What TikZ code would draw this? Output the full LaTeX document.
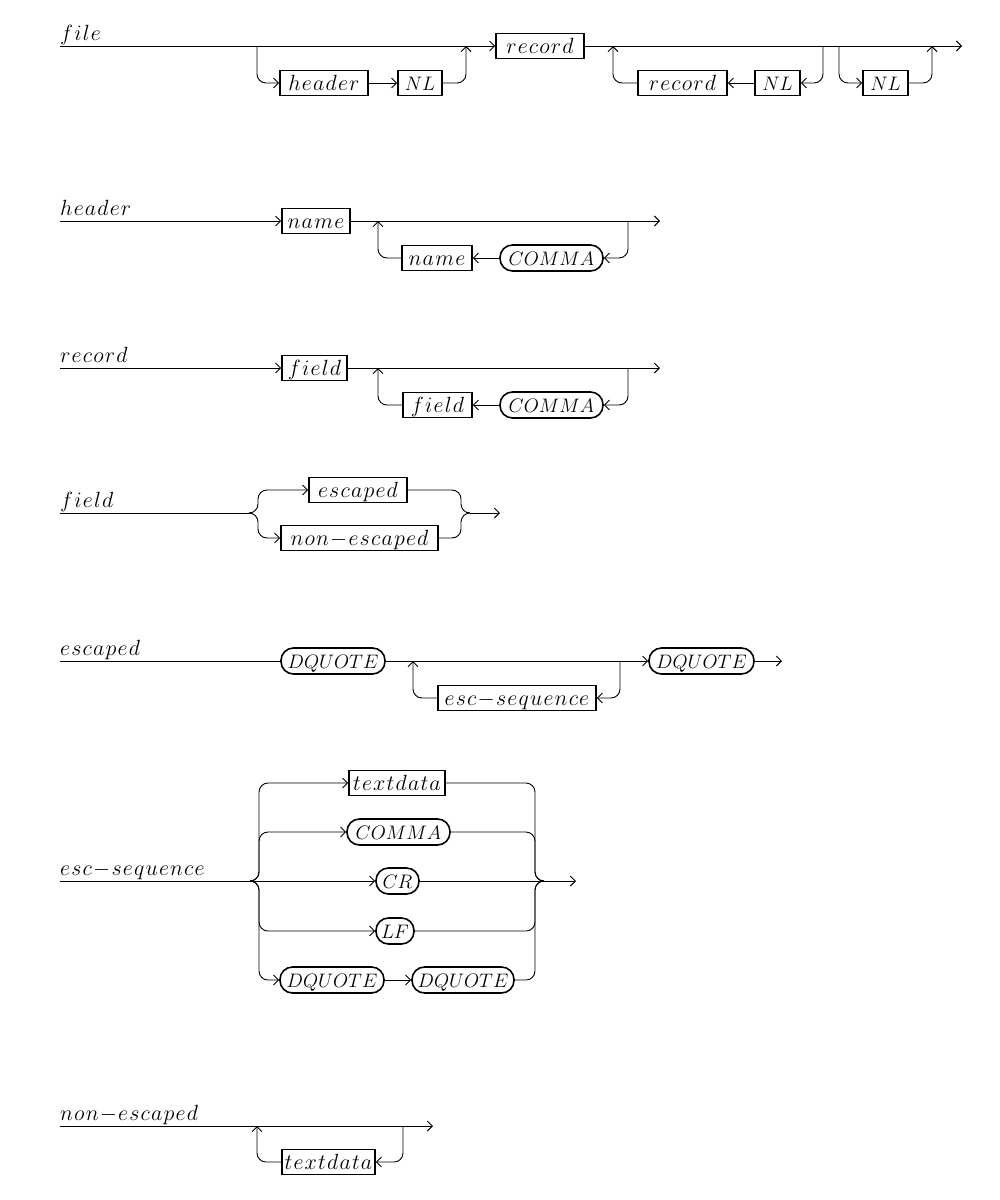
\RequirePackage{fix-cm}
\documentclass[tikz,border=0pt]{standalone}
\usetikzlibrary{arrows.meta}
\newdimen\rltrack \rltrack=1.2pt
\makeatletter
\def\rl#1{$\rl@a#1\relax$}
\def\rl@a#1{{#1}\rl@b}
\def\rl@b#1{\ifx\relax#1\else\kern\rltrack{#1}\expandafter\rl@b\fi}
\makeatother
\newcommand\RL[1]{{\fontsize{19.5pt}{22pt}\selectfont$#1$}}
\tikzset{
  rail/.style={line width=0.9pt},
  tip/.style={-{Straight Barb[length=5pt,width=10pt,line width=0.9pt]}},
  nt/.style={draw, line width=1.6pt, minimum height=25pt, inner xsep=2pt, inner ysep=0pt,
    text height=17pt, text depth=2pt, font=\fontsize{22pt}{26pt}\selectfont},
  term/.style={nt, rounded corners=12.5pt, minimum height=26pt, text height=16pt, text depth=2pt},
  lbl/.style={anchor=base west, inner sep=0pt, font=\fontsize{22pt}{26pt}\selectfont},
  rc/.style={rounded corners=9pt},
}
\begin{document}
\begin{tikzpicture}[x=1pt,y=-1pt]
\useasboundingbox (0,0) rectangle (1000,1200);
% ---------- file ----------
\node[lbl] (Lfile) at (60,40) {\rl{file}};
\coordinate (f0) at (60,46);
\coordinate (fb1) at (257,46);
\coordinate (fj1) at (466,46);
\coordinate (fj2) at (613,46);
\coordinate (fb2) at (823,46);
\coordinate (fb3) at (839,46);
\coordinate (fj3) at (932,46);
\coordinate (fend) at (962,46);
\node[nt, minimum width=88pt] (fhdr) at (324,83) {\rl{header}};
\node[nt, minimum width=44pt] (fnl1) at (420,83) {\RL{NL}};
\node[nt, minimum width=88pt] (frec) at (540,46) {\rl{record}};
\node[nt, minimum width=89pt] (frec2) at (682.5,83) {\rl{record}};
\node[nt, minimum width=45pt] (fnl2) at (777.5,83) {\RL{NL}};
\node[nt, minimum width=45pt] (fnl3) at (885.5,83) {\RL{NL}};
\draw[rail,tip] (f0) -- (frec);
\draw[rail,rc,tip] (fb1) |- (fhdr);
\draw[rail,tip] (fhdr) -- (fnl1);
\draw[rail,rc,tip] (fnl1) -| (fj1);
\draw[rail,tip] (frec) -- (fend);
\draw[rail,rc,tip] (fb2) |- (fnl2);
\draw[rail,tip] (fnl2) -- (frec2);
\draw[rail,rc,tip] (frec2) -| (fj2);
\draw[rail,rc,tip] (fb3) |- (fnl3);
\draw[rail,rc,tip] (fnl3) -| (fj3);
% ---------- header ----------
\node[lbl] (Lheader) at (60,215) {\rl{header}};
\coordinate (h0) at (60,221);
\coordinate (hj) at (378,221);
\coordinate (hb) at (628,221);
\coordinate (hend) at (660,221);
\node[nt, minimum width=68pt] (hname) at (316,221) {\rl{name}};
\node[nt, minimum width=70pt] (hname2) at (437,258) {\rl{name}};
\node[term, minimum width=103pt] (hcomma) at (551.5,258) {\RL{COMMA}};
\draw[rail,tip] (h0) -- (hname);
\draw[rail,tip] (hname) -- (hend);
\draw[rail,rc,tip] (hb) |- (hcomma);
\draw[rail,tip] (hcomma) -- (hname2);
\draw[rail,rc,tip] (hname2) -| (hj);
% ---------- record ----------
\node[lbl] (Lrecord) at (60,362) {\rl{record}};
\coordinate (r0) at (60,368);
\coordinate (rj) at (378,368);
\coordinate (rb) at (628,368);
\coordinate (rend) at (660,368);
\node[nt, minimum width=65pt] (rfield) at (314.5,368) {\rl{field}};
\node[nt, minimum width=69pt] (rfield2) at (437.5,405) {\rl{field}};
\node[term, minimum width=103pt] (rcomma) at (551.5,405) {\RL{COMMA}};
\draw[rail,tip] (r0) -- (rfield);
\draw[rail,tip] (rfield) -- (rend);
\draw[rail,rc,tip] (rb) |- (rcomma);
\draw[rail,tip] (rcomma) -- (rfield2);
\draw[rail,rc,tip] (rfield2) -| (rj);
% ---------- field ----------
\node[lbl] (Lfield) at (60,507) {\rl{field}};
\coordinate (fi0) at (60,513);
\coordinate (fis) at (249,513);
\coordinate (fim) at (470,513);
\coordinate (fiend) at (500,513);
\node[nt, minimum width=98pt] (fesc) at (358,490) {\rl{escaped}};
\node[nt, minimum width=157pt] (fnesc) at (359.5,538) {\rl{non-escaped}};
\draw[rail] (fi0) -- (fis);
\draw[rail,rc,tip] (fis) -- ++(9,0) |- (fesc);
\draw[rail,rc,tip] (fis) -- ++(9,0) |- (fnesc);
\draw[rail,rc] (fesc.east) -| (461,513) -- (fim);
\draw[rail,rc] (fnesc.east) -| (461,513) -- (fim);
\draw[rail,tip] (fim) -- (fiend);
% ---------- escaped ----------
\node[lbl] (Lescaped) at (60,655) {\rl{escaped}};
\coordinate (e0) at (60,661);
\coordinate (ej) at (413,661);
\coordinate (eb) at (620,661);
\coordinate (eend) at (782,661);
\node[term, minimum width=104pt] (edq1) at (333,661) {\RL{DQUOTE}};
\node[nt, minimum width=158pt] (eseq) at (517,698) {\rl{esc-sequence}};
\node[term, minimum width=105pt] (edq2) at (701.5,661) {\RL{DQUOTE}};
\draw[rail] (e0) -- (edq1);
\draw[rail,tip] (edq1) -- (edq2);
\draw[rail,tip] (edq2) -- (eend);
\draw[rail,rc,tip] (eb) |- (eseq);
\draw[rail,rc,tip] (eseq) -| (ej);
% ---------- esc-sequence ----------
\node[lbl] (Lseq) at (60,875) {\rl{esc-sequence}};
\coordinate (s0) at (60,881);
\coordinate (ss) at (250,881);
\coordinate (sm) at (544,881);
\coordinate (send) at (576,881);
\node[nt, minimum width=96pt] (std) at (397,783) {\rl{textdata}};
\node[term, minimum width=103pt] (scm) at (398.5,832) {\RL{COMMA}};
\node[term, minimum width=43pt] (scr) at (397.5,881) {\RL{CR}};
\node[term, minimum width=38pt] (slf) at (395,931) {\RL{LF}};
\node[term, minimum width=104pt] (sdqa) at (332,980) {\RL{DQUOTE}};
\node[term, minimum width=102pt] (sdqb) at (463,980) {\RL{DQUOTE}};
\draw[rail,tip] (s0) -- (scr);
\draw[rail,rc,tip] (ss) -- ++(9,0) |- (std);
\draw[rail,rc,tip] (ss) -- ++(9,0) |- (scm);
\draw[rail,rc,tip] (ss) -- ++(9,0) |- (slf);
\draw[rail,rc,tip] (ss) -- ++(9,0) |- (sdqa);
\draw[rail,tip] (sdqa) -- (sdqb);
\draw[rail,rc] (std.east) -| (535,881) -- (sm);
\draw[rail,rc] (scm.east) -| (535,881) -- (sm);
\draw[rail,rc] (slf.east) -| (535,881) -- (sm);
\draw[rail,rc] (sdqb.east) -| (535,881) -- (sm);
\draw[rail,tip] (scr) -- (send);
% ---------- non-escaped ----------
\node[lbl] (Lnesc) at (60,1120) {\rl{non-escaped}};
\coordinate (n0) at (60,1126);
\coordinate (nj) at (257,1126);
\coordinate (nb) at (403,1126);
\coordinate (nend) at (433,1126);
\node[nt, minimum width=93pt] (ntd) at (328.5,1162) {\rl{textdata}};
\draw[rail,tip] (n0) -- (nend);
\draw[rail,rc,tip] (nb) |- (ntd);
\draw[rail,rc,tip] (ntd) -| (nj);
\end{tikzpicture}
\end{document}
